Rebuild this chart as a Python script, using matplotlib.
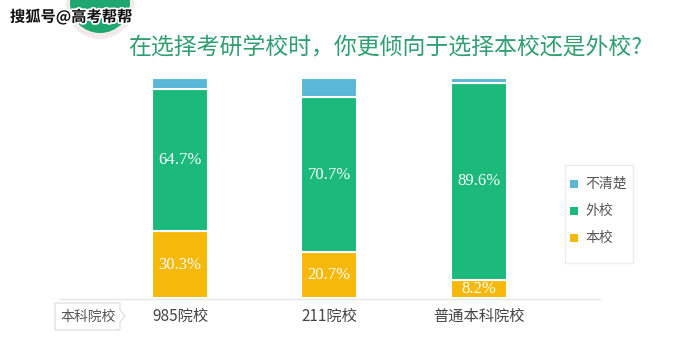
import matplotlib.pyplot as plt
from matplotlib.patches import Rectangle, Circle, Polygon
import matplotlib.patheffects as pe

plt.rcParams['font.family'] = ['Noto Sans CJK SC', 'DejaVu Sans']

# Data
categories = ['985院校', '211院校', '普通本科院校']
own_school = [30.3, 20.7, 8.2]      # 本校
other_school = [64.7, 70.7, 89.6]   # 外校
unsure = [5.0, 8.6, 2.2]            # 不清楚
series_names = ['不清楚', '外校', '本校']

c_blue = '#5ab7d8'
c_green = '#1bb97c'
c_yellow = '#f6b90a'

W, H = 683, 353
fig = plt.figure(figsize=(W / 100, H / 100), dpi=100)
fig.patch.set_facecolor('white')

# overlay axes in pixel coordinates (y down)
bg = fig.add_axes([0, 0, 1, 1])
bg.set_xlim(0, W)
bg.set_ylim(H, 0)
bg.axis('off')

# green badge circle at top-left
bg.add_patch(Circle((100, 5), 34, facecolor='#f3e9ea', edgecolor='none'))
bg.add_patch(Circle((100, 3), 30, facecolor='#1ea86f', edgecolor='none'))

bg.text(10, 17, '搜狐号@高考帮帮', fontsize=11, fontweight='bold', color='#111111',
        va='center', ha='left',
        path_effects=[pe.withStroke(linewidth=2.5, foreground='white')])

bg.text(385, 48, '在选择考研学校时，你更倾向于选择本校还是外校?', fontsize=16.5,
        color='#2f9e70', ha='center', va='center')

# baseline
bg.plot([60, 600], [298.5, 298.5], color='#e6e6e6', lw=1)

# "本科院校" bubble
bg.add_patch(Polygon([(55, 303), (120, 303), (120, 310), (125, 316), (120, 322),
                      (120, 330), (55, 330)], closed=True, facecolor='white',
                     edgecolor='#e2e2e2', lw=1))
bg.text(88, 316.5, '本科院校', fontsize=10, color='#555555', ha='center', va='center')

# legend box
bg.add_patch(Rectangle((565, 165), 68, 98, facecolor='white', edgecolor='#ececec', lw=1))
for i, (name, col) in enumerate(zip(series_names, [c_blue, c_green, c_yellow])):
    y = 184 + i * 27
    bg.add_patch(Rectangle((570, y - 4), 8, 8, facecolor=col, edgecolor='none'))
    bg.text(585, y, name, fontsize=10, color='#555555', ha='left', va='center')

# bar axes
left_px, right_px = 55, 605
bottom_px, top_px = 298, 78
ax = fig.add_axes([left_px / W, 1 - bottom_px / H, (right_px - left_px) / W,
                   (bottom_px - top_px) / H])
ax.patch.set_alpha(0)
ax.set_xlim((left_px - 180) / 149.3, (right_px - 180) / 149.3)
ax.set_ylim(0, 100)
ax.axis('off')

x = list(range(len(categories)))
width = 0.375
ax.bar(x, own_school, width, color=c_yellow, edgecolor='white', lw=1.5)
ax.bar(x, other_school, width, bottom=own_school, color=c_green,
       edgecolor='white', lw=1.5)
bottoms = [a + b for a, b in zip(own_school, other_school)]
ax.bar(x, unsure, width, bottom=bottoms, color=c_blue, edgecolor='white', lw=1.5)

for i in x:
    ax.text(i, own_school[i] / 2, f'{own_school[i]}%', color='white', fontsize=12,
            ha='center', va='center', family='Liberation Serif')
    ax.text(i, own_school[i] + other_school[i] / 2, f'{other_school[i]}%',
            color='white', fontsize=12, ha='center', va='center',
            family='Liberation Serif')
    ax.text(i, -8.5, categories[i], color='#444444', fontsize=11,
            ha='center', va='center')

fig.savefig('out.png', dpi=100, facecolor='white')
